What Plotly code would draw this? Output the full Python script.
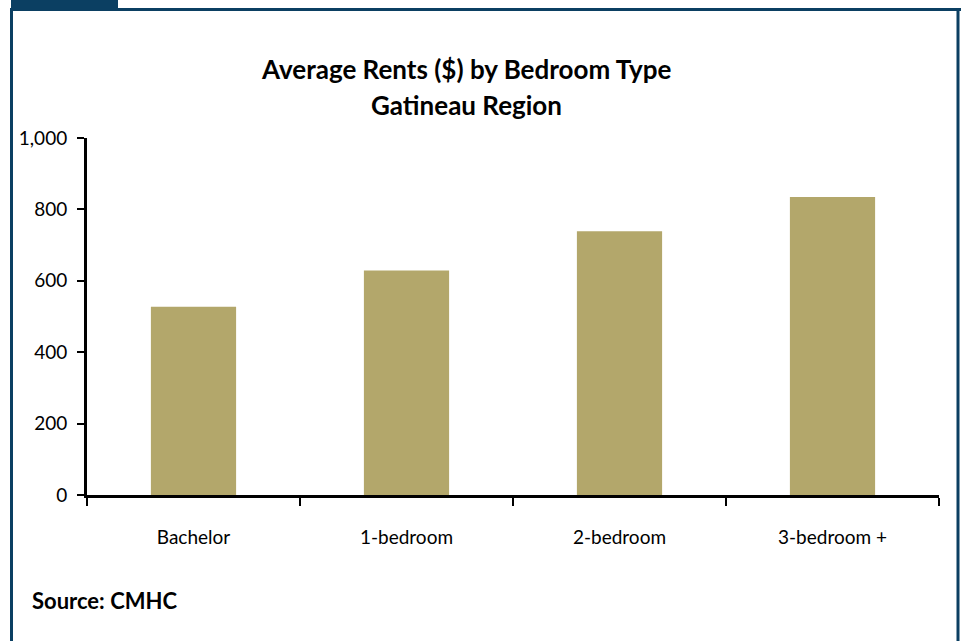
import plotly.graph_objects as go

categories = ["Bachelor", "1-bedroom", "2-bedroom", "3-bedroom +"]
rents = [527, 629, 739, 835]
y_ticks = [0, 200, 400, 600, 800, 1000]
y_tick_labels = ["0", "200", "400", "600", "800", "1,000"]
title_lines = ["Average Rents ($) by Bedroom Type", "Gatineau Region"]
source_text = "Source: CMHC"

W, H = 961, 641
L, R, T, B = 87, 939, 138, 495  # plot area in pixels
FRAME = "#0B3F62"
BAR = "#B3A76B"
FONT = "Lato"


def px(x):
    return (x - L) / (R - L)


def py(y):
    return (B - y) / (B - T)


fig = go.Figure(
    go.Bar(
        x=categories,
        y=rents,
        marker=dict(color=BAR, line=dict(width=0)),
        width=0.4,
    )
)

shapes = [
    # tab at top left
    dict(type="rect", xref="paper", yref="paper",
         x0=px(11), x1=px(118), y0=py(0), y1=py(9),
         fillcolor=FRAME, line=dict(width=0), layer="above"),
    # top border
    dict(type="line", xref="paper", yref="paper",
         x0=px(10), x1=px(961), y0=py(9.5), y1=py(9.5),
         line=dict(color=FRAME, width=3)),
    # left border
    dict(type="line", xref="paper", yref="paper",
         x0=px(11.5), x1=px(11.5), y0=py(8), y1=py(645),
         line=dict(color=FRAME, width=3)),
    # right border
    dict(type="line", xref="paper", yref="paper",
         x0=px(958), x1=px(958), y0=py(8), y1=py(645),
         line=dict(color=FRAME, width=3)),
]

annotations = [
    dict(text="<b>%s</b>" % title_lines[0],
         xref="paper", yref="paper", x=px(466), y=py(69),
         xanchor="center", yanchor="middle", showarrow=False,
         font=dict(family=FONT, size=26, color="#000000")),
    dict(text="<b>%s</b>" % title_lines[1],
         xref="paper", yref="paper", x=px(466), y=py(105),
         xanchor="center", yanchor="middle", showarrow=False,
         font=dict(family=FONT, size=26, color="#000000")),
    dict(text="<b>%s</b>" % source_text,
         xref="paper", yref="paper", x=px(30), y=py(600),
         xanchor="left", yanchor="middle", showarrow=False,
         font=dict(family=FONT, size=22, color="#000000")),
]

fig.update_layout(
    width=W, height=H,
    margin=dict(l=L, r=W - R, t=T, b=H - B, pad=0),
    paper_bgcolor="white", plot_bgcolor="white",
    showlegend=False,
    shapes=shapes,
    annotations=annotations,
    font=dict(family=FONT, size=19, color="#000000"),
    bargap=0.6,
)

fig.update_xaxes(
    type="category",
    range=[-0.5, 3.5],
    showline=True, linecolor="#000000", linewidth=3,
    ticks="outside", tickson="boundaries", ticklen=8, tickwidth=2, tickcolor="#000000",
    ticklabelstandoff=23,
    showgrid=False, zeroline=False,
    tickfont=dict(family=FONT, size=19, color="#000000"),
)
fig.update_yaxes(
    range=[0, 1000],
    tickvals=y_ticks, ticktext=y_tick_labels,
    showline=True, linecolor="#000000", linewidth=3,
    ticks="outside", ticklen=7, tickwidth=2, tickcolor="#000000",
    ticklabelstandoff=6,
    showgrid=False, zeroline=False,
    tickfont=dict(family=FONT, size=19, color="#000000"),
)

fig.write_html("out.html")
